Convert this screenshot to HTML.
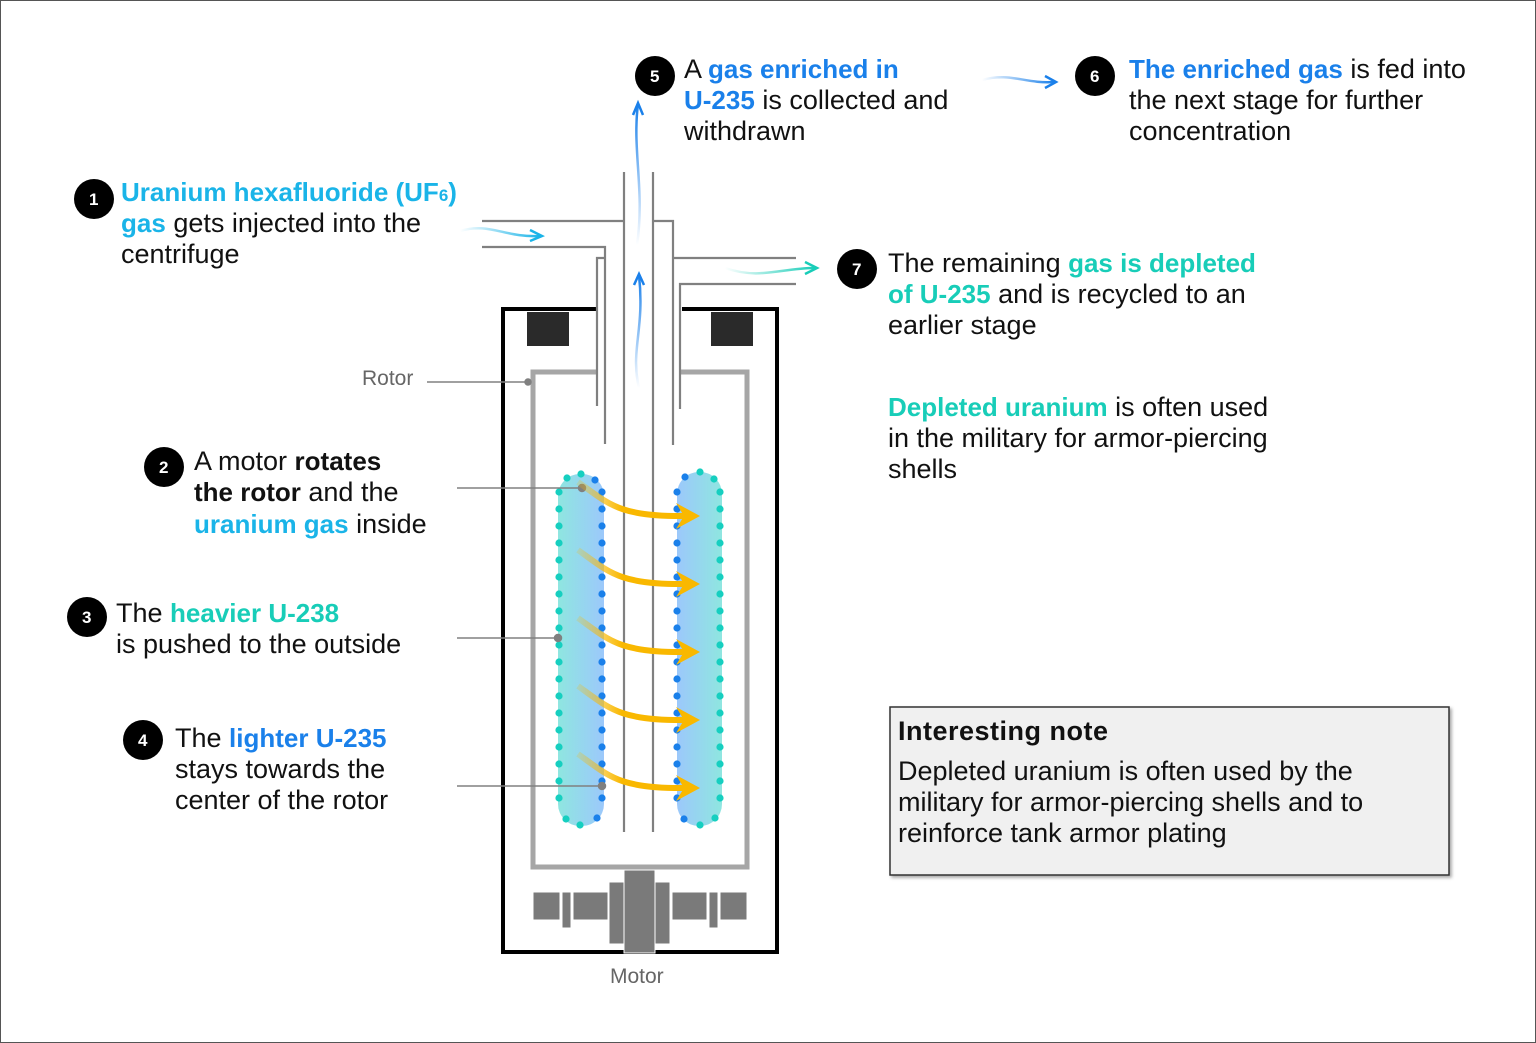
<!DOCTYPE html>
<html><head><meta charset="utf-8"><style>
html,body{margin:0;padding:0;background:#fff}
svg{display:block}
text{font-family:"Liberation Sans",sans-serif;font-size:27px;fill:#111}
.b{font-weight:bold;font-size:26px}
.c{fill:#1ab4e8}.bl{fill:#1a80ea}.t{fill:#18cdb8}
.n{font-size:17px;font-weight:bold;fill:#fff}
.g{font-size:21px;fill:#666}
</style></head><body>
<svg id="s" width="1536" height="1043" viewBox="0 0 1536 1043" xmlns="http://www.w3.org/2000/svg">
<defs>
<linearGradient id="gl" x1="0" x2="1"><stop offset="0" stop-color="#8fe6e0"/><stop offset="1" stop-color="#9cc8fb"/></linearGradient>
<linearGradient id="gr" x1="0" x2="1"><stop offset="0" stop-color="#9cc8fb"/><stop offset="1" stop-color="#8fe6e0"/></linearGradient>
<linearGradient id="ya" x1="0" x2="1"><stop offset="0" stop-color="#f9b800" stop-opacity="0.2"/><stop offset="0.4" stop-color="#f9b800"/></linearGradient>
<linearGradient id="cy" x1="0" x2="1"><stop offset="0" stop-color="#1ab4e8" stop-opacity="0"/><stop offset="1" stop-color="#1ab4e8"/></linearGradient>
<linearGradient id="tl" x1="0" x2="1"><stop offset="0" stop-color="#18cdb8" stop-opacity="0"/><stop offset="1" stop-color="#18cdb8"/></linearGradient>
<linearGradient id="bu" x1="0" y1="1" x2="0" y2="0"><stop offset="0" stop-color="#1a80ea" stop-opacity="0"/><stop offset="1" stop-color="#1a80ea"/></linearGradient>
<linearGradient id="bh" x1="0" x2="1"><stop offset="0" stop-color="#1a80ea" stop-opacity="0"/><stop offset="1" stop-color="#1a80ea"/></linearGradient>
<filter id="sh"><feDropShadow dx="2" dy="2" stdDeviation="1.5" flood-opacity="0.35"/></filter>
</defs>
<rect x="0.5" y="0.5" width="1535" height="1042" fill="none" stroke="#555" stroke-width="1"/>

<path d="M597 309 H503 V952 H777 V309 H682" fill="none" stroke="#000" stroke-width="4"/>
<rect x="527" y="312" width="42" height="34" fill="#2a2a2a"/>
<rect x="711" y="312" width="42" height="34" fill="#2a2a2a"/>
<path d="M597 372 H533 V867 H747 V372 H681" fill="none" stroke="#a6a6a6" stroke-width="5"/>
<g stroke="#808080" stroke-width="2.2" fill="none">
<path d="M624 172 V832"/><path d="M653 172 V832"/>
<path d="M482 221 H624"/>
<path d="M482 247 H605 V444"/>
<path d="M605 258 H597 V406"/>
<path d="M653 221 H673 V445"/>
<path d="M673 258 H796"/>
<path d="M796 284 H680 V409"/>
</g>
<rect x="558" y="474" width="46" height="352" rx="22" fill="url(#gl)"/>
<rect x="677" y="472" width="45" height="354" rx="22" fill="url(#gr)"/>
<g id="dots"></g>
<g stroke="#808080" stroke-width="1.5" fill="#808080">
<path d="M427 382 H528" fill="none"/><circle cx="528" cy="382" r="3"/>
<path d="M457 488 H582" fill="none"/><circle cx="582" cy="488" r="3.5"/>
<path d="M457 638 H558" fill="none"/><circle cx="558" cy="638" r="3.5"/>
<path d="M457 786 H602" fill="none"/><circle cx="602" cy="786" r="3.5"/>
</g>
<g id="arrows"></g>
<path d="M460 231 C490 222 505 238 540 236" stroke="url(#cy)" stroke-width="2.5" fill="none"/>
<path d="M530 230 L542 236 L530 241" stroke="#1ab4e8" stroke-width="2.5" fill="none"/>
<path d="M725 268 C760 280 780 268 815 268" stroke="url(#tl)" stroke-width="2.5" fill="none"/>
<path d="M805 262 L817 268 L805 274" stroke="#18cdb8" stroke-width="2.5" fill="none"/>
<path d="M639 388 C630 350 645 330 639 275" stroke="url(#bu)" stroke-width="2.5" fill="none"/>
<path d="M634 285 L639 274 L644 285" stroke="#1a80ea" stroke-width="2.5" fill="none"/>
<path d="M637 245 C645 190 632 150 638 104" stroke="url(#bu)" stroke-width="2.5" fill="none"/>
<path d="M633 115 L638 103 L643 115" stroke="#1a80ea" stroke-width="2.5" fill="none"/>
<path d="M982 80 C1010 72 1025 84 1054 82" stroke="url(#bh)" stroke-width="2.5" fill="none"/>
<path d="M1045 76 L1056 82 L1045 88" stroke="#1a80ea" stroke-width="2.5" fill="none"/>
<g fill="#7a7a7a" stroke="#fff" stroke-width="1">
<rect x="533" y="892" width="27" height="28"/><rect x="562" y="892" width="9" height="36"/>
<rect x="573" y="892" width="35" height="28"/><rect x="609" y="882" width="15" height="62"/>
<rect x="624" y="870" width="31" height="83"/><rect x="655" y="882" width="15" height="62"/>
<rect x="672" y="892" width="35" height="28"/><rect x="709" y="892" width="9" height="36"/>
<rect x="720" y="892" width="27" height="28"/>
</g>
<text class="g" x="610" y="983">Motor</text>
<text class="g" x="362" y="385">Rotor</text>

<circle cx="94" cy="199" r="20"/><text class="n" x="89" y="205">1</text>
<text x="121" y="201"><tspan class="b c">Uranium hexafluoride (UF<tspan font-size="17">6</tspan>)</tspan></text>
<text x="121" y="232"><tspan class="b c">gas</tspan> gets injected into the</text>
<text x="121" y="263">centrifuge</text>

<circle cx="164" cy="467" r="20"/><text class="n" x="159" y="473">2</text>
<text x="194" y="470">A motor <tspan class="b">rotates</tspan></text>
<text x="194" y="501"><tspan class="b">the rotor</tspan> and the</text>
<text x="194" y="533"><tspan class="b c">uranium gas</tspan> inside</text>

<circle cx="87" cy="617" r="20"/><text class="n" x="82" y="623">3</text>
<text x="116" y="622">The <tspan class="b t">heavier U-238</tspan></text>
<text x="116" y="653">is pushed to the outside</text>

<circle cx="143" cy="740" r="20"/><text class="n" x="138" y="746">4</text>
<text x="175" y="747">The <tspan class="b bl">lighter U-235</tspan></text>
<text x="175" y="778">stays towards the</text>
<text x="175" y="809">center of the rotor</text>

<circle cx="655" cy="76" r="20"/><text class="n" x="650" y="82">5</text>
<text x="684" y="78">A <tspan class="b bl">gas enriched in</tspan></text>
<text x="684" y="109"><tspan class="b bl">U-235</tspan> is collected and</text>
<text x="684" y="140">withdrawn</text>

<circle cx="1095" cy="76" r="20"/><text class="n" x="1090" y="82">6</text>
<text x="1129" y="78"><tspan class="b bl">The enriched gas</tspan> is fed into</text>
<text x="1129" y="109">the next stage for further</text>
<text x="1129" y="140">concentration</text>

<circle cx="857" cy="269" r="20"/><text class="n" x="852" y="275">7</text>
<text x="888" y="272">The remaining <tspan class="b t">gas is depleted</tspan></text>
<text x="888" y="303"><tspan class="b t">of U-235</tspan> and is recycled to an</text>
<text x="888" y="334">earlier stage</text>

<text x="888" y="416"><tspan class="b t">Depleted uranium</tspan> is often used</text>
<text x="888" y="447">in the military for armor-piercing</text>
<text x="888" y="478">shells</text>

<rect x="890" y="707" width="559" height="168" fill="#f0f0f0" stroke="#333" stroke-width="1.5" filter="url(#sh)"/>
<text x="898" y="740" font-weight="bold" font-size="31" letter-spacing="0.5">Interesting note</text>
<text x="898" y="780">Depleted uranium is often used by the</text>
<text x="898" y="811">military for armor-piercing shells and to</text>
<text x="898" y="842">reinforce tank armor plating</text>
</svg>
<script>
var NS="http://www.w3.org/2000/svg",d=document.getElementById("dots"),a=document.getElementById("arrows");
function c(x,y,col){var e=document.createElementNS(NS,"circle");e.setAttribute("cx",x);e.setAttribute("cy",y);e.setAttribute("r",3.6);e.setAttribute("fill",col);d.appendChild(e);}
var T="#16cfc0",B="#1a80ea";
for(var y=492;y<=812;y+=17){c(559,y,T);c(602,y,B);c(677,y,B);c(720,y,T);}
c(567,478,T);c(581,474,T);c(595,480,B);c(566,819,T);c(580,825,T);c(597,818,B);
c(685,477,B);c(700,472,T);c(714,479,T);c(684,819,B);c(700,825,T);c(715,818,T);
for(var i=0;i<5;i++){var o=i*68;
var p=document.createElementNS(NS,"path");p.setAttribute("d","M578 "+(482+o)+" C610 "+(505+o)+" 620 "+(517+o)+" 688 "+(516+o));
p.setAttribute("stroke","url(#ya)");p.setAttribute("stroke-width","6");p.setAttribute("fill","none");a.appendChild(p);
var h=document.createElementNS(NS,"path");h.setAttribute("d","M676 "+(503+o)+" L700 "+(516+o)+" L676 "+(529+o)+" L684 "+(516+o)+"Z");h.setAttribute("fill","#f9b800");a.appendChild(h);}
</script>
</body></html>
